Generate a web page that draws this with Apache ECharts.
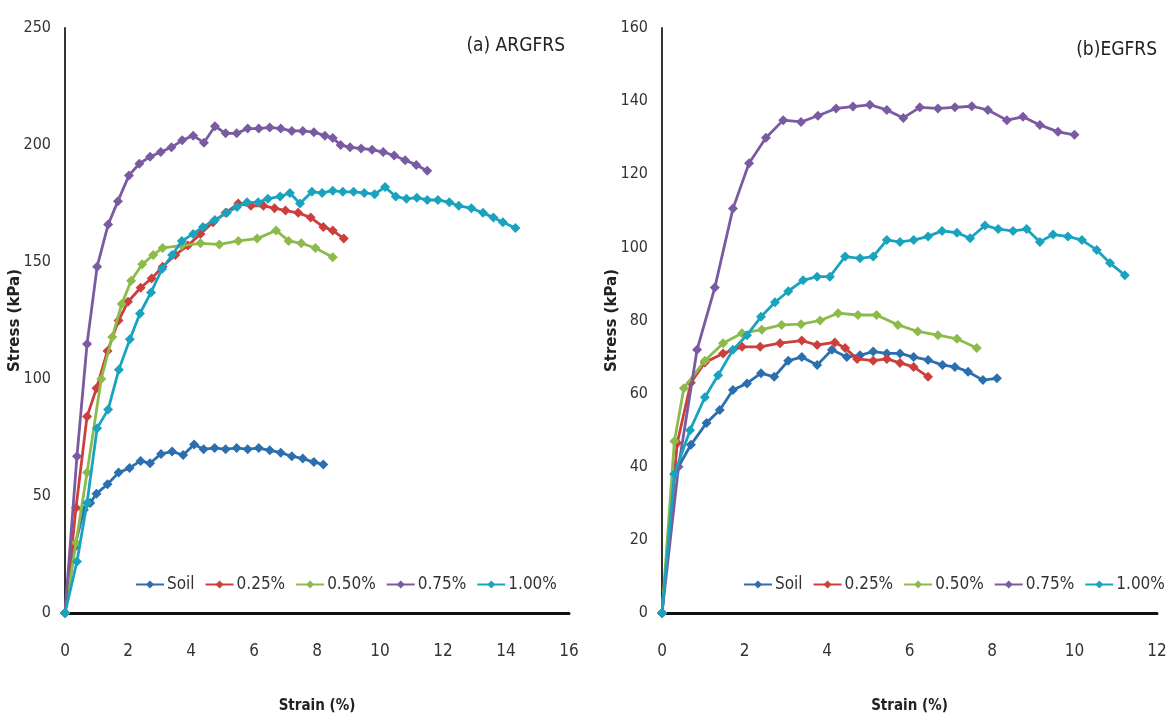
<!DOCTYPE html>
<html><head><meta charset="utf-8">
<script src="https://cdn.jsdelivr.net/npm/echarts@6/dist/echarts.min.js"></script>
<style>html,body{margin:0;padding:0;background:#fff}#c{width:1176px;height:726px}</style>
</head><body><div id="c"></div>
<script>
const seriesNames = ['Soil', '0.25%', '0.50%', '0.75%', '1.00%'];
const colors = ['#2b6fae', '#cc3f3c', '#8cbb4c', '#7a5ba1', '#1aa3bf'];

// (a) ARGFRS  [strain %, stress kPa]
const aSoil = [[0,0],[0.3,28],[0.6,44],[0.8,47],[1.0,51],[1.35,55],[1.7,60],[2.05,62],[2.4,65],[2.7,64],[3.05,68],[3.4,69],[3.75,67.5],[4.1,72],[4.4,70],[4.75,70.5],[5.1,70],[5.45,70.5],[5.8,70],[6.15,70.5],[6.5,69.5],[6.85,68.5],[7.2,67],[7.55,66],[7.9,64.5],[8.2,63.5]];
const aP025 = [[0,0],[0.35,45],[0.7,84],[1.0,96],[1.35,112],[1.7,125],[2.0,133],[2.4,139],[2.75,143],[3.1,148],[3.5,153],[3.9,157],[4.3,162],[4.7,167],[5.1,171],[5.5,175],[5.9,174],[6.3,174],[6.65,173],[7.0,172],[7.4,171],[7.8,169],[8.2,165],[8.5,163.5],[8.85,160]];
const aP050 = [[0,0],[0.35,30],[0.7,60],[1.15,100],[1.5,118],[1.8,132],[2.1,142],[2.45,149],[2.8,153],[3.1,156],[3.7,157],[4.3,158],[4.9,157.5],[5.5,159],[6.1,160],[6.7,163.5],[7.1,159],[7.5,158],[7.95,156],[8.5,152]];
const aP075 = [[0,0],[0.38,67],[0.7,115],[1.02,148],[1.37,166],[1.68,176],[2.03,187],[2.36,192],[2.7,195],[3.04,197],[3.38,199],[3.72,202],[4.07,204],[4.41,201],[4.76,208],[5.1,205],[5.45,205],[5.8,207],[6.15,207],[6.5,207.5],[6.85,207],[7.2,206],[7.55,206],[7.9,205.5],[8.25,204],[8.5,203],[8.75,200],[9.05,199],[9.4,198.5],[9.75,198],[10.1,197],[10.45,195.5],[10.8,193.5],[11.15,191.5],[11.5,189]];
const aP100 = [[0,0],[0.38,22],[0.7,47],[1.02,79],[1.37,87],[1.71,104],[2.06,117],[2.38,128],[2.73,137],[3.08,147],[3.4,153],[3.71,159],[4.07,162],[4.38,165],[4.76,168],[5.14,171],[5.46,173.5],[5.78,175.5],[6.13,175.5],[6.44,177],[6.83,178],[7.14,179.5],[7.46,175],[7.84,180],[8.16,179.5],[8.5,180.5],[8.82,180],[9.16,180],[9.5,179.5],[9.83,179],[10.16,182],[10.5,178],[10.84,177],[11.17,177.5],[11.5,176.5],[11.84,176.5],[12.2,175.5],[12.5,174],[12.9,173],[13.27,171],[13.6,169],[13.9,167],[14.3,164.5]];

// (b) EGFRS
const bSoil = [[0,0],[0.3,38],[0.7,46],[1.08,52],[1.4,55.5],[1.72,61],[2.06,62.8],[2.4,65.6],[2.72,64.6],[3.06,69],[3.39,70],[3.76,67.8],[4.12,72],[4.48,70],[4.8,70.5],[5.12,71.5],[5.45,71],[5.77,71],[6.1,70],[6.45,69.2],[6.8,67.8],[7.1,67.3],[7.42,66],[7.78,63.7],[8.12,64.2]];
const bP025 = [[0,0],[0.37,46.5],[0.7,63],[1.04,68.5],[1.48,71],[1.94,72.8],[2.38,72.8],[2.86,73.8],[3.39,74.5],[3.76,73.3],[4.19,74],[4.44,72.5],[4.73,69.5],[5.12,69],[5.45,69.5],[5.77,68.4],[6.1,67.3],[6.45,64.6]];
const bP050 = [[0,0],[0.3,47],[0.53,61.5],[1.04,69],[1.48,73.8],[1.94,76.5],[2.42,77.5],[2.9,78.8],[3.37,79],[3.83,80],[4.27,82],[4.75,81.5],[5.2,81.5],[5.72,78.8],[6.2,77],[6.69,76],[7.15,75],[7.63,72.5]];
const bP075 = [[0,0],[0.4,40],[0.85,72],[1.28,89],[1.72,110.6],[2.11,123],[2.52,130],[2.94,134.8],[3.37,134.3],[3.78,136],[4.22,138],[4.63,138.5],[5.04,139],[5.45,137.6],[5.85,135.4],[6.25,138.3],[6.69,138],[7.1,138.3],[7.51,138.6],[7.9,137.6],[8.36,134.8],[8.75,135.7],[9.16,133.5],[9.6,131.6],[10.0,130.8]];
const bP100 = [[0,0],[0.3,38],[0.68,50],[1.04,59],[1.36,65],[1.72,72],[2.06,76],[2.4,81],[2.74,85],[3.06,88],[3.42,91],[3.76,92],[4.07,92],[4.44,97.5],[4.8,97],[5.12,97.5],[5.45,102],[5.77,101.5],[6.1,102],[6.45,103],[6.79,104.5],[7.15,104],[7.47,102.5],[7.83,106],[8.15,105],[8.51,104.5],[8.84,105],[9.16,101.5],[9.48,103.5],[9.84,103],[10.18,102],[10.54,99.3],[10.86,95.7],[11.22,92.4]];

const aData = [aSoil, aP025, aP050, aP075, aP100];
const bData = [bSoil, bP025, bP050, bP075, bP100];

const xTicksA = {min: 0, max: 16, interval: 2};
const yTicksA = {min: 0, max: 250, interval: 50};
const xTicksB = {min: 0, max: 12, interval: 2};
const yTicksB = {min: 0, max: 160, interval: 20};

const FONT = '"DejaVu Sans Condensed", "Liberation Sans Narrow", "Liberation Sans", sans-serif';

function xAxis(idx, t) {
  return {
    type: 'value', gridIndex: idx, min: t.min, max: t.max, interval: t.interval,
    name: 'Strain (%)', nameLocation: 'middle', nameGap: 86, nameMoveOverlap: false,
    nameTextStyle: {fontFamily: FONT, fontWeight: 'bold', fontSize: 15, color: '#222'},
    axisLine: {show: true, lineStyle: {color: '#111', width: 3}},
    axisTick: {show: false}, splitLine: {show: false},
    axisLabel: {margin: 30, fontFamily: FONT, fontSize: 17, color: '#333'}
  };
}
function yAxis(idx, t) {
  return {
    type: 'value', gridIndex: idx, min: t.min, max: t.max, interval: t.interval,
    name: 'Stress (kPa)', nameLocation: 'middle', nameGap: 42, nameMoveOverlap: false,
    nameTextStyle: {fontFamily: 'DejaVu Sans, sans-serif', fontWeight: 'bold', fontSize: 15, color: '#222'},
    axisLine: {show: true, lineStyle: {color: '#333', width: 2}},
    axisTick: {show: false}, splitLine: {show: false},
    axisLabel: {margin: 14, fontFamily: FONT, fontSize: 16, color: '#333'}
  };
}
function mkSeries(data, idx) {
  return data.map((d, i) => ({
    type: 'line', name: seriesNames[i], xAxisIndex: idx, yAxisIndex: idx,
    data: d, symbol: 'diamond', symbolSize: 10, showSymbol: true,
    color: colors[i], lineStyle: {width: 2.8, color: colors[i]},
    itemStyle: {color: colors[i]}, animation: false, z: 2 + i
  }));
}
function legend(left) {
  return {
    left: left, top: 571, width: 480, itemWidth: 28, itemHeight: 10, itemGap: 10,
    data: seriesNames,
    textStyle: {fontFamily: FONT, fontSize: 17, color: '#333', padding: [0, 0, 0, -2]}
  };
}

const chart = echarts.init(document.getElementById('c'));
chart.setOption({
  backgroundColor: '#fff',
  animation: false,
  title: [
    {text: '(a) ARGFRS', right: 606, top: 32, textStyle: {fontFamily: FONT, fontSize: 19, fontWeight: 'normal', color: '#222'}},
    {text: '(b)EGFRS', right: 14, top: 36, textStyle: {fontFamily: FONT, fontSize: 19, fontWeight: 'normal', color: '#222'}}
  ],
  legend: [legend(130), legend(738)],
  grid: [
    {left: 65, top: 28, width: 504, height: 585},
    {left: 662, top: 28, width: 495, height: 585}
  ],
  xAxis: [xAxis(0, xTicksA), xAxis(1, xTicksB)],
  yAxis: [yAxis(0, yTicksA), yAxis(1, yTicksB)],
  series: mkSeries(aData, 0).concat(mkSeries(bData, 1))
});
</script></body></html>
